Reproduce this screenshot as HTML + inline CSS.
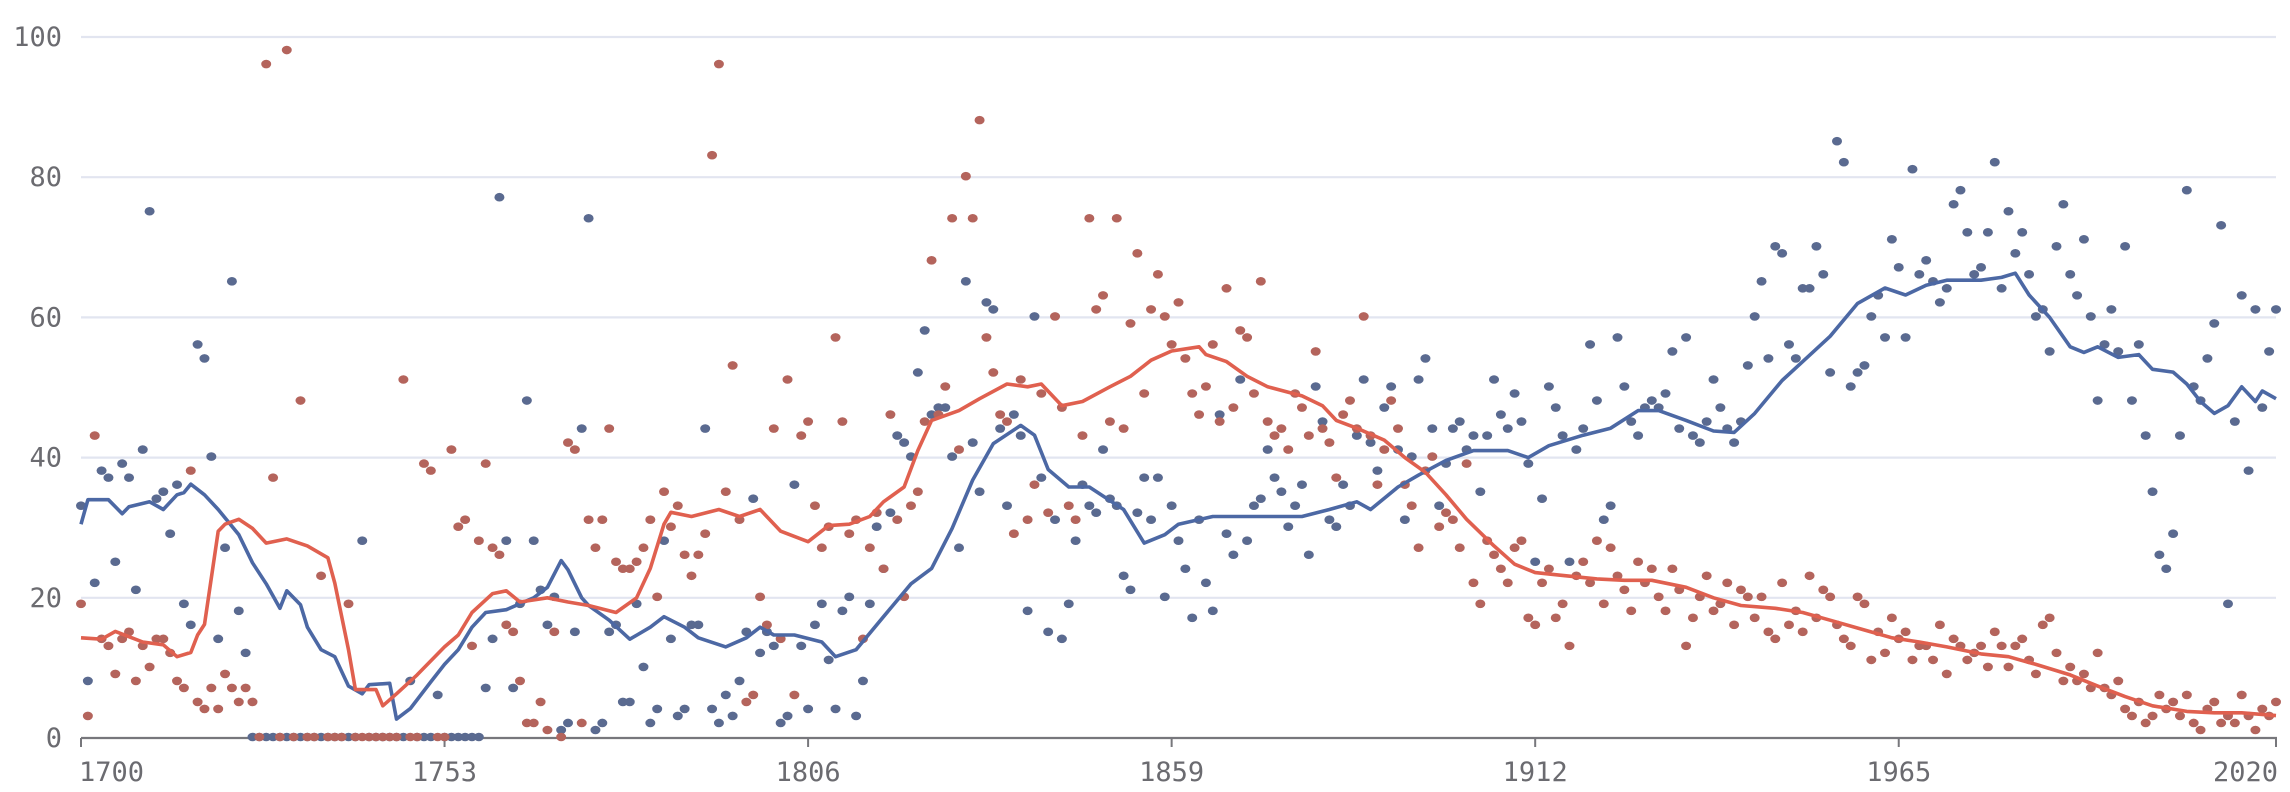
<!DOCTYPE html>
<html><head><meta charset="utf-8">
<style>
html,body{margin:0;padding:0;background:#fff;}
svg{display:block;}
text{font-family:"DejaVu Sans Mono","Liberation Mono",monospace;font-size:27px;fill:#6b6b70;}
</style></head>
<body>
<svg id="chart" width="2290" height="792" viewBox="0 0 2290 792" xmlns="http://www.w3.org/2000/svg">
<g id="grid"></g>
<g id="yaxis"></g>
<g id="xaxis"></g>
<g id="dots"></g>
<g id="lines"></g>
</svg>
<script>
const yTicks=[0,20,40,60,80,100];
const xTicks=[1700,1753,1806,1859,1912,1965,2020];
const startYear=1700;
const blueScatter=[
33,8,22,38,37,25,39,37,21,41,
75,34,35,29,36,19,16,56,54,40,
14,27,65,18,12,0,0,0,0,0,
0,0,0,0,0,0,0,0,0,0,
0,28,0,0,0,0,0,0,8,0,
0,0,6,0,0,0,0,0,0,7,
14,77,28,7,19,48,28,21,16,20,
1,2,15,44,74,1,2,15,16,5,
5,19,10,2,4,28,14,3,4,16,
16,44,4,2,6,3,8,15,34,12,
15,13,2,3,36,13,4,16,19,11,
4,18,20,3,8,19,30,24,32,43,
42,40,52,58,46,47,47,40,27,65,
42,35,62,61,44,33,46,43,18,60,
37,15,31,14,19,28,36,33,32,41,
34,33,23,21,32,37,31,37,20,33,
28,24,17,31,22,18,46,29,26,51,
28,33,34,41,37,35,30,33,36,26,
50,45,31,30,36,33,43,51,42,38,
47,50,41,31,40,51,54,44,33,39,
44,45,41,43,35,43,51,46,44,49,
45,39,25,34,50,47,43,25,41,44,
56,48,31,33,57,50,45,43,47,48,
47,49,55,44,57,43,42,45,51,47,
44,42,45,53,60,65,54,70,69,56,
54,64,64,70,66,52,85,82,50,52,
53,60,63,57,71,67,57,81,66,68,
65,62,64,76,78,72,66,67,72,82,
64,75,69,72,66,60,61,55,70,76,
66,63,71,60,48,56,61,55,70,48,
56,43,35,26,24,29,43,78,50,48,
54,59,73,19,45,63,38,61,47,55,
61];
const redScatter=[
19,3,43,14,13,9,14,15,8,13,
10,14,14,12,8,7,38,5,4,7,
4,9,7,5,7,5,0,96,37,0,
98,0,48,0,0,23,0,0,0,19,
0,0,0,0,0,0,0,51,0,0,
39,38,0,0,41,30,31,13,28,39,
27,26,16,15,8,2,2,5,1,15,
0,42,41,2,31,27,31,44,25,24,
24,25,27,31,20,35,30,33,26,23,
26,29,83,96,35,53,31,5,6,20,
16,44,14,51,6,43,45,33,27,30,
57,45,29,31,14,27,32,24,46,31,
20,33,35,45,68,46,50,74,41,80,
74,88,57,52,46,45,29,51,31,36,
49,32,60,47,33,31,43,74,61,63,
45,74,44,59,69,49,61,66,60,56,
62,54,49,46,50,56,45,64,47,58,
57,49,65,45,43,44,41,49,47,43,
55,44,42,37,46,48,44,60,43,36,
41,48,44,36,33,27,38,40,30,32,
31,27,39,22,19,28,26,24,22,27,
28,17,16,22,24,17,19,13,23,25,
22,28,19,27,23,21,18,25,22,24,
20,18,24,21,13,17,20,23,18,19,
22,16,21,20,17,20,15,14,22,16,
18,15,23,17,21,20,16,14,13,20,
19,11,15,12,17,14,15,11,13,13,
11,16,9,14,13,11,12,13,10,15,
13,10,13,14,11,9,16,17,12,8,
10,8,9,7,12,7,6,8,4,3,
5,2,3,6,4,5,3,6,2,1,
4,5,2,3,2,6,3,1,4,3,
5];
const blueLineYears=[1700,1701,1704,1706,1707,1710,1712,1714,1715,1716,1718,1720,1723,1725,1727,1729,1730,1732,1733,1735,1737,1739,1741,1742,1745,1746,1748,1751,1753,1755,1757,1759,1762,1766,1768,1770,1771,1773,1774,1777,1780,1783,1785,1788,1790,1794,1797,1799,1801,1804,1808,1810,1813,1817,1821,1824,1827,1830,1833,1837,1839,1841,1844,1847,1852,1855,1858,1860,1865,1871,1878,1882,1886,1888,1892,1895,1899,1903,1908,1911,1914,1919,1923,1927,1930,1934,1938,1941,1944,1948,1951,1955,1959,1963,1966,1969,1972,1977,1980,1982,1984,1987,1990,1992,1994,1997,2000,2002,2005,2007,2009,2011,2013,2015,2017,2018,2020];
const blueLineValues=[30.5,34,34,32,33,33.7,32.6,34.7,35,36.2,34.7,32.6,29,25,22,18.5,21,19,15.8,12.6,11.6,7.4,6.3,7.6,7.8,2.7,4.2,8,10.5,12.6,15.8,17.9,18.3,20,21.5,25.3,24,20,18.9,16.8,14.1,15.8,17.3,15.8,14.3,13,14.3,15.8,14.7,14.7,13.7,11.6,12.6,17.3,22,24.2,29.9,36.8,42,44.6,43.2,38.3,35.8,35.8,32.6,27.8,29,30.5,31.6,31.6,31.6,32.6,33.7,32.6,35.8,37.5,39.6,41,41,40,41.7,43.2,44.2,46.7,46.7,45.3,43.8,43.6,46.3,51,53.7,57.3,62,64.2,63.2,64.6,65.3,65.3,65.7,66.3,63.2,60,55.8,55,55.8,54.3,54.7,52.6,52.2,50.5,48,46.3,47.4,50.1,48,49.5,48.4];
const redLineYears=[1700,1703,1705,1709,1712,1714,1716,1717,1718,1720,1721,1723,1725,1727,1730,1733,1736,1737,1739,1740,1743,1744,1746,1749,1753,1755,1757,1760,1762,1764,1768,1771,1774,1778,1781,1783,1785,1786,1789,1793,1796,1799,1802,1806,1809,1812,1815,1817,1820,1822,1824,1828,1831,1835,1838,1840,1843,1846,1850,1853,1856,1859,1863,1864,1867,1870,1873,1878,1881,1883,1886,1890,1893,1896,1899,1902,1906,1909,1912,1916,1921,1925,1929,1934,1938,1942,1947,1951,1955,1960,1964,1968,1972,1977,1981,1985,1990,1994,1998,2002,2007,2011,2015,2020];
const redLineValues=[14.3,14.1,15.2,13.7,13.3,11.6,12.2,14.7,16.2,29.5,30.5,31.2,29.9,27.8,28.4,27.4,25.7,22.1,12.6,6.9,6.9,4.6,6.3,9,13,14.7,17.9,20.6,21,19.4,20,19.4,18.9,17.9,20,24.2,30.5,32.2,31.6,32.6,31.6,32.6,29.5,28,30.3,30.5,31.6,33.7,35.8,41,45.3,46.7,48.4,50.5,50.1,50.5,47.4,48,50.1,51.6,53.9,55.2,55.8,54.7,53.7,51.6,50.1,48.8,47.4,45.3,44.2,42.5,40,37.9,34.7,31.2,27.4,24.8,23.6,23.2,22.7,22.5,22.5,21.5,20,18.9,18.5,17.9,16.8,15.4,14.3,13.7,13,12,11.6,10.5,9,7.4,5.9,4.6,3.8,3.6,3.6,3.2];

const X0=81,X1=2276,Y0=738,Y100=37;
const xs=y=>X0+(y-1700)*(X1-X0)/320;
const ys=v=>Y0-v*(Y0-Y100)/100;
const NS='http://www.w3.org/2000/svg';
function mk(tag,attrs,parent){const e=document.createElementNS(NS,tag);for(const k in attrs)e.setAttribute(k,attrs[k]);parent.appendChild(e);return e;}
const grid=document.getElementById('grid'),yax=document.getElementById('yaxis'),xax=document.getElementById('xaxis'),dots=document.getElementById('dots'),lines=document.getElementById('lines');
yTicks.forEach(t=>{
  if(t>0){const l=mk('line',{x1:X0,x2:X1,y1:ys(t),y2:ys(t),stroke:'#e2e5f0','stroke-width':2.2},grid);
  
  }
  const tx=mk('text',{x:62,y:ys(t)+9,'text-anchor':'end'},yax);tx.textContent=t;
  
  
});
const base=mk('line',{x1:X0,x2:X1+1,y1:Y0,y2:Y0,stroke:'#77777c','stroke-width':2.2},xax);


xTicks.forEach(t=>{
  const tk=mk('line',{x1:xs(t),x2:xs(t),y1:Y0,y2:Y0+9,stroke:'#77777c','stroke-width':2},xax);
  
  
  const anchor=t===2020?'end':(t===1700?'start':'middle');
  const tx=mk('text',{x:t===2020?xs(t)+2:(t===1700?xs(t)-2:xs(t)),y:781,'text-anchor':anchor},xax);tx.textContent=t;
  
  
});
function scatter(arr,color,name){
  arr.forEach((v,i)=>{
    const c=mk('ellipse',{cx:xs(startYear+i),cy:ys(v)-1,rx:5,ry:4.3,fill:color},dots);
    
    
  });
}
scatter(blueScatter,'#5a6a90','blue-series');
scatter(redScatter,'#b4645c','red-series');
function line(yrs,vals,color,name){
  const d=yrs.map((y,i)=>(i?'L':'M')+xs(y).toFixed(1)+' '+ys(vals[i]).toFixed(1)).join(' ');
  const p=mk('path',{d:d,fill:'none',stroke:color,'stroke-width':3.6,'stroke-linejoin':'round'},lines);
  
  
}
line(blueLineYears,blueLineValues,'#4c68a4','blue-trend-line');
line(redLineYears,redLineValues,'#e0604f','red-trend-line');
</script>
</body></html>
